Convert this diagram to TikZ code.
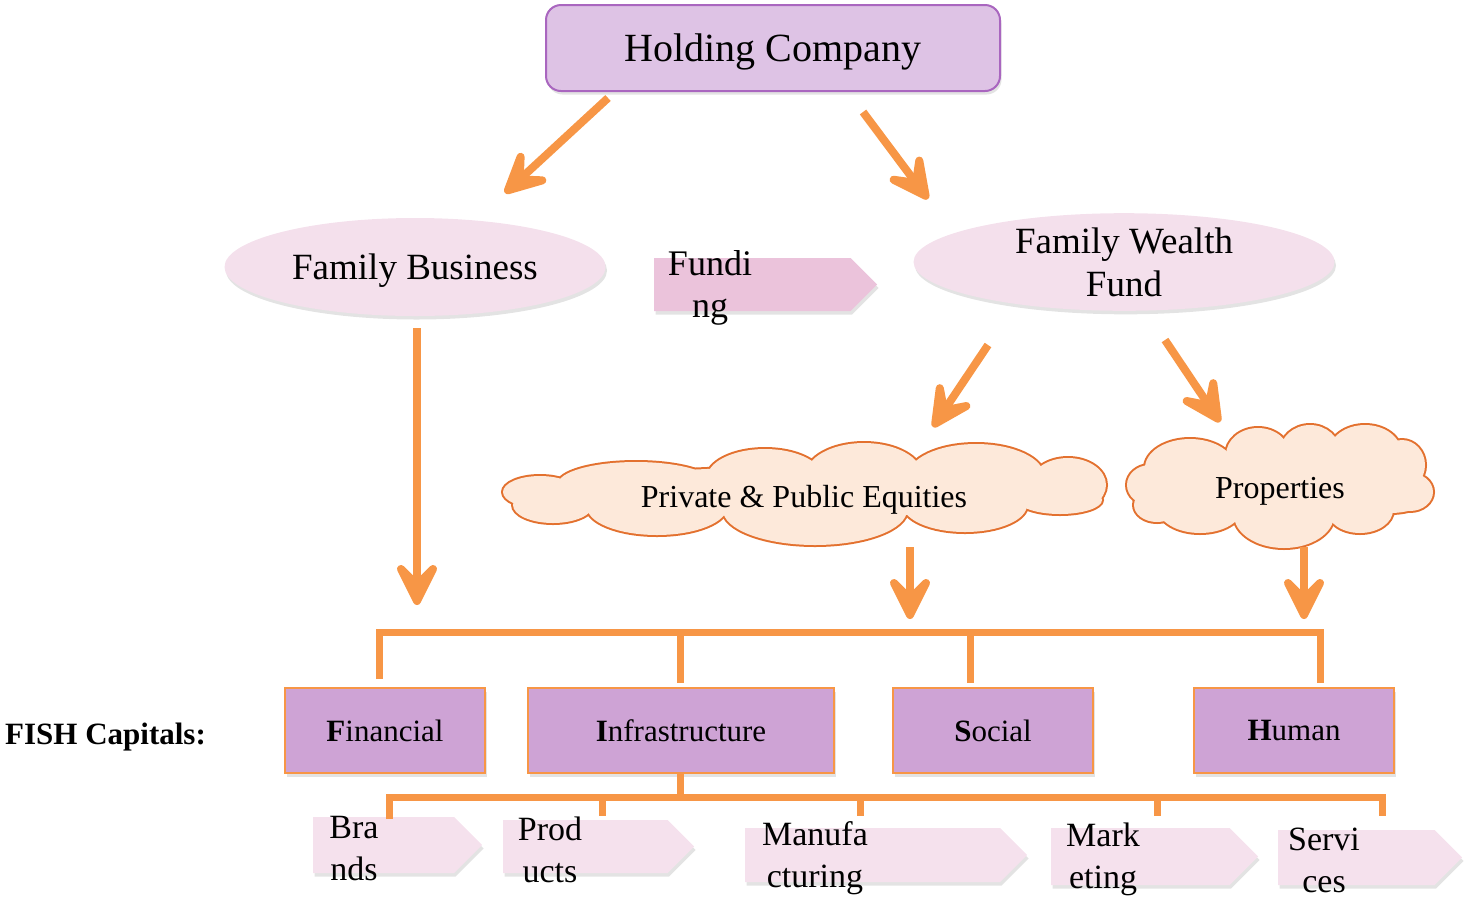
\documentclass[tikz,border=0pt]{standalone}
\usepackage{fontspec}
\setmainfont{Liberation Serif}
\usetikzlibrary{shapes.geometric,shapes.symbols,arrows.meta,shadows,calc}
\definecolor{arr}{HTML}{F79646}
\definecolor{hcfill}{HTML}{DEC3E5}
\definecolor{hcdraw}{HTML}{A966BF}
\definecolor{ellfill}{HTML}{F4E0EC}
\definecolor{fundfill}{HTML}{EBC3DB}
\definecolor{pentfill}{HTML}{F5E1ED}
\definecolor{cloudfill}{HTML}{FDE9DA}
\definecolor{clouddraw}{HTML}{E3712F}
\definecolor{boxfill}{HTML}{CEA3D5}
\tikzset{
  arrowline/.style={draw=arr, line width=8pt},
  arrowhead/.style={fill=arr, draw=arr, line width=8pt, line join=round},
  bracket/.style={draw=arr, line width=7pt},
  softshadow/.style={drop shadow={opacity=0.22, shadow xshift=1.5pt, shadow yshift=-3.5pt}},
  ellnode/.style={ellipse, fill=ellfill, inner sep=0, softshadow, font=\fontsize{37}{43}\selectfont, align=center},
  pent/.style={signal, signal to=east, signal pointer angle=90, inner sep=0, anchor=west, softshadow},
  cloudtxt/.style={inner sep=0, font=\fontsize{32}{38}\selectfont},
  puffline/.style={draw=clouddraw, line width=4pt},
  pufffill/.style={fill=cloudfill},
  capbox/.style={rectangle, fill=boxfill, draw=arr, line width=2pt, minimum height=85pt, inner sep=0, font=\fontsize{31}{36}\selectfont, softshadow},
  smalltxt/.style={font=\fontsize{34}{42}\selectfont, align=center, inner sep=0},
}
\newcommand\puffsA{540/492/37/16, 636/484/78/22, 765/478/58/29, 864/475/58/32,
  976/476/68/32, 1068/485/38/27, 1060/500/42/14, 965/505/62/27, 815/510/92/35,
  657/507/70/28, 553/505/40/18, 805/492/250/25}
\newcommand\puffsB{1150/485/23/20, 1190/468/45/29, 1258/455/32/27, 1310/452/30/27,
  1365/452/36/27, 1402/465/23/25, 1410/492/23/19, 1390/497/37/16, 1360/510/33/23,
  1284/515/50/33, 1200/508/42/25, 1157/505/23/17, 1280/485/125/35}
\newcommand\mkarrow[2]{%
  \coordinate (hT) at ($(#2)!4pt!(#1)$);
  \coordinate (hB) at ($(#2)!36pt!(#1)$);
  \coordinate (hI) at ($(#2)!20pt!(#1)$);
  \draw[arrowline] (#1) -- (hI);
  \filldraw[arrowhead] (hT) -- ($(hB)!16pt!90:(hT)$) -- (hI) -- ($(hB)!16pt!-90:(hT)$) -- cycle;
}
\begin{document}
\begin{tikzpicture}[x=1pt,y=-1pt]
\useasboundingbox (0,0) rectangle (1464,898);

% top node
\node[rectangle, rounded corners=15pt, fill=hcfill, draw=hcdraw, line width=2pt,
      minimum width=454pt, minimum height=86pt, softshadow, text depth=0pt,
      font=\fontsize{40}{48}\selectfont] (hc) at (773,48) {Holding Company};

% ellipses
\node[ellnode, minimum width=381pt, minimum height=98pt, text depth=0pt] (fb) at (415,267) {Family Business};
\node[ellnode, minimum width=421pt, minimum height=97pt] (fwf) at (1124,262) {Family Wealth\\Fund};

% funding
\node[pent, fill=fundfill, minimum width=223pt, minimum height=53pt] (fund) at (654,284.5) {};
\node[smalltxt, font=\fontsize{36}{42}\selectfont] (fundt) at (710,288) {Fundi\\ng};

% clouds (drawn as unions of puffs)
\foreach \cx/\cy/\rx/\ry in \puffsA
  \path[puffline] (\cx,\cy) ellipse [x radius=\rx pt, y radius=\ry pt];
\foreach \cx/\cy/\rx/\ry in \puffsA
  \path[pufffill] (\cx,\cy) ellipse [x radius=\rx pt, y radius=\ry pt];
\foreach \cx/\cy/\rx/\ry in \puffsB
  \path[puffline] (\cx,\cy) ellipse [x radius=\rx pt, y radius=\ry pt];
\foreach \cx/\cy/\rx/\ry in \puffsB
  \path[pufffill] (\cx,\cy) ellipse [x radius=\rx pt, y radius=\ry pt];
\node[cloudtxt] (ppe) at (804,500) {Private \& Public Equities};
\node[cloudtxt] (prop) at (1280,491) {Properties};

% arrow endpoints
\coordinate (a1s) at (608,98);  \coordinate (a1e) at (505,193);
\coordinate (a2s) at (863,112); \coordinate (a2e) at (928,199);
\coordinate (a3s) at (988,345); \coordinate (a3e) at (933,427);
\coordinate (a4s) at (1165,340); \coordinate (a4e) at (1220,422);
\coordinate (a5s) at (417,328); \coordinate (a5e) at (417,605);
\coordinate (a6s) at (910,547); \coordinate (a6e) at (910,619);
\coordinate (a7s) at (1304,547); \coordinate (a7e) at (1304,619);

\mkarrow{a1s}{a1e}
\mkarrow{a2s}{a2e}
\mkarrow{a3s}{a3e}
\mkarrow{a4s}{a4e}
\mkarrow{a5s}{a5e}
\mkarrow{a6s}{a6e}
\mkarrow{a7s}{a7e}

% FISH label
\node[anchor=west, inner sep=0, font=\fontsize{31}{36}\selectfont\bfseries] (fish) at (5,737) {FISH Capitals:};

% capital boxes
\node[capbox, minimum width=200pt] (fin) at (385,730.5) {\textbf{F}inancial};
\node[capbox, minimum width=306pt] (inf) at (681,730.5) {\textbf{I}nfrastructure};
\node[capbox, minimum width=200pt] (soc) at (993,730.5) {\textbf{S}ocial};
\node[capbox, minimum width=200pt] (hum) at (1294,730.5) {\textbf{H}uman};

% top bracket
\coordinate (tb1) at (379,632); \coordinate (tb2) at (680,632);
\coordinate (tb3) at (970,632); \coordinate (tb4) at (1320,632);
\draw[bracket] (tb1 |- 0,679) -- (tb1) -- (tb4) -- (tb4 |- 0,683);
\draw[bracket] (tb2) -- (tb2 |- 0,683);
\draw[bracket] (tb3) -- (tb3 |- 0,683);

% bottom pentagons
\node[pent, fill=pentfill, minimum width=169pt, minimum height=56pt] (br) at (313,845) {};
\node[pent, fill=pentfill, minimum width=191pt, minimum height=53pt] (pr) at (503,846.5) {};
\node[pent, fill=pentfill, minimum width=282pt, minimum height=54pt] (mf) at (745,855) {};
\node[pent, fill=pentfill, minimum width=207pt, minimum height=57pt] (mk) at (1051,856.5) {};
\node[pent, fill=pentfill, minimum width=184pt, minimum height=55pt] (sv) at (1278,857.5) {};

% bottom bracket
\coordinate (bb0) at (680,797);
\coordinate (bb1) at (389,797); \coordinate (bb2) at (602,797);
\coordinate (bb3) at (860,797); \coordinate (bb4) at (1157,797);
\coordinate (bb5) at (1382,797);
\draw[bracket] (inf.south -| bb0) -- (bb0);
\draw[bracket] (bb1 |- 0,819) -- (bb1) -- (bb5) -- (bb5 |- 0,816);
\draw[bracket] (bb2) -- (bb2 |- 0,816);
\draw[bracket] (bb3) -- (bb3 |- 0,816);
\draw[bracket] (bb4) -- (bb4 |- 0,816);

% bottom texts
\node[smalltxt] (brt) at (354,849) {Bra\\nds};
\node[smalltxt] (prt) at (550,850) {Prod\\ucts};
\node[smalltxt] (mft) at (815,858) {Manufa\\cturing};
\node[smalltxt] (mkt) at (1103,859) {Mark\\eting};
\node[smalltxt] (svt) at (1324,860) {Servi\\ces};
\end{tikzpicture}
\end{document}
